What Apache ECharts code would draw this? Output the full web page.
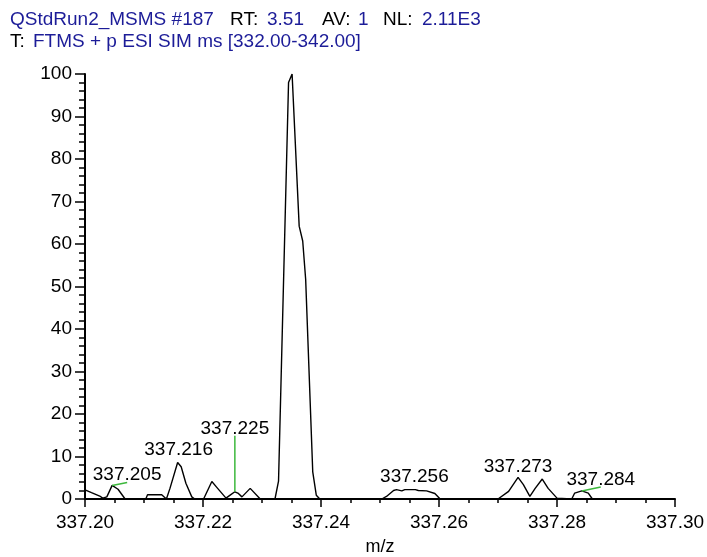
<!DOCTYPE html>
<html>
<head>
<meta charset="utf-8">
<script src="https://cdn.jsdelivr.net/npm/echarts@6/dist/echarts.min.js"></script>
<style>
  html, body { margin: 0; padding: 0; background: #fff; }
  #chart { width: 707px; height: 557px; }
</style>
</head>
<body>
<div id="chart"></div>
<script>
// Profile spectrum: m/z and relative abundance (%)
const mzValues = [
  337.2001, 337.2011, 337.2025, 337.2030, 337.2037, 337.2046, 337.2056, 337.2068,
  337.2103, 337.2106, 337.2130, 337.2138, 337.2144, 337.2157, 337.2163, 337.2171,
  337.2181, 337.2186, 337.2201, 337.2215, 337.2223, 337.2239, 337.2246, 337.2254,
  337.2260, 337.2266, 337.2280, 337.2297, 337.2322, 337.2328, 337.2345, 337.2351,
  337.2363, 337.2369, 337.2374, 337.2386, 337.2392, 337.2398, 337.2503, 337.2511,
  337.2523, 337.2528, 337.2537, 337.2542, 337.2560, 337.2565, 337.2579, 337.2593,
  337.2602, 337.2700, 337.2703, 337.2718, 337.2734, 337.2743, 337.2754, 337.2763,
  337.2775, 337.2785, 337.2800, 337.2803, 337.2825, 337.2830, 337.2842, 337.2853,
  337.2860, 337.3000
];
const intensities = [
  2.1, 1.5, 0.7, 0.2, 0.5, 3.2, 2.3, 0,
  0, 1.0, 1.0, 0, 2.5, 8.6, 7.6, 3.7,
  0.5, 0, 0, 4.1, 2.8, 0.2, 0.9, 1.7,
  1.3, 0.5, 2.5, 0, 0, 4.2, 98, 100,
  64.2, 60.7, 51.7, 6.4, 0.9, 0, 0, 0.6,
  2.0, 2.2, 1.9, 2.2, 2.2, 2.0, 1.9, 1.3,
  0, 0, 0.3, 1.8, 5.1, 3.4, 0.6, 2.5,
  4.7, 2.5, 0.2, 0, 0, 1.4, 1.9, 1.4,
  0, 0
];

// Centroids that carry an m/z label
const labelledPeaks = [337.2046, 337.2157, 337.2254, 337.2560, 337.2734, 337.2842];
// Label displacement from the peak, in pixels, and whether a leader line is drawn
const labelOffsets = [[15, -5], [1, -7], [0, -58], [-1, -7], [0, -5], [19, -6]];
const leaderLines = [true, false, true, false, false, true];

// Axis tick labels
const xTickLabels = ['337.20', '337.22', '337.24', '337.26', '337.28', '337.30'];
const yTickLabels = ['0', '10', '20', '30', '40', '50', '60', '70', '80', '90', '100'];

// Header text
const headerLine1 = [
  ['QStdRun2_MSMS #187', true, 10], ['RT:', false, 230], ['3.51', true, 267],
  ['AV:', false, 322], ['1', true, 358], ['NL:', false, 383], ['2.11E3', true, 422]
];
const headerLine2 = [['T:', false, 10], ['FTMS + p ESI SIM ms [332.00-342.00]', true, 33]];

const FONT = '"Liberation Sans", Arial, sans-serif';
const BLUE = '#1c1c98';

const profile = mzValues.map((m, i) => [m, intensities[i]]);
const peakData = labelledPeaks.map((m, i) => {
  const j = mzValues.indexOf(m);
  return [m, intensities[j], i];
});

const xMin = parseFloat(xTickLabels[0]);
const xMax = parseFloat(xTickLabels[xTickLabels.length - 1]);
const xStep = parseFloat(xTickLabels[1]) - xMin;
const yMax = parseFloat(yTickLabels[yTickLabels.length - 1]);
const yStep = parseFloat(yTickLabels[1]);

function headerTexts(items, y) {
  return items.map(([text, blue, x]) => ({
    type: 'text',
    x: x,
    y: y,
    style: {
      text: text,
      fill: blue ? BLUE : '#000',
      font: '19px ' + FONT,
      textAlign: 'left',
      textVerticalAlign: 'middle'
    }
  }));
}

const chart = echarts.init(document.getElementById('chart'), null, { renderer: 'canvas' });

chart.setOption({
  animation: false,
  backgroundColor: '#fff',
  graphic: headerTexts(headerLine1, 20).concat(headerTexts(headerLine2, 42)),
  grid: { left: 85, right: 32, top: 74, bottom: 58, outerBoundsMode: 'none', containLabel: false },
  xAxis: {
    type: 'value',
    min: xMin,
    max: xMax,
    interval: xStep,
    name: 'm/z',
    nameLocation: 'middle',
    nameGap: 39,
    nameTextStyle: { color: '#000', fontSize: 18, fontFamily: FONT },
    axisLine: { show: true, onZero: false, lineStyle: { color: '#000', width: 2 } },
    axisTick: { show: true, length: 8, lineStyle: { color: '#000', width: 1.5 } },
    minorTick: { show: true, splitNumber: 4, length: 4, lineStyle: { color: '#000', width: 1.5 } },
    splitLine: { show: false },
    axisLabel: {
      color: '#000', fontSize: 19, fontFamily: FONT, margin: 14,
      formatter: v => v.toFixed(2)
    }
  },
  yAxis: {
    type: 'value',
    min: 0,
    max: yMax,
    interval: yStep,
    axisLine: { show: true, lineStyle: { color: '#000', width: 2 } },
    axisTick: { show: true, length: 10, lineStyle: { color: '#000', width: 1.5 } },
    minorTick: { show: true, splitNumber: 5, length: 6, lineStyle: { color: '#000', width: 1.5 } },
    splitLine: { show: false },
    axisLabel: { color: '#000', fontSize: 19, fontFamily: FONT, margin: 13 }
  },
  series: [
    {
      type: 'line',
      data: profile,
      symbol: 'none',
      smooth: false,
      lineStyle: { color: '#000', width: 1.4 },
      z: 3
    },
    {
      type: 'custom',
      data: peakData,
      clip: false,
      z: 4,
      renderItem: function (params, api) {
        const idx = api.value(2);
        const pt = api.coord([api.value(0), api.value(1)]);
        const off = labelOffsets[idx];
        const ax = pt[0] + off[0];
        const ay = pt[1] + off[1];
        const children = [];
        if (leaderLines[idx]) {
          children.push({
            type: 'line',
            shape: { x1: pt[0], y1: pt[1], x2: ax, y2: ay + 2 },
            style: { stroke: '#3cb83c', lineWidth: 1.5 }
          });
        }
        children.push({
          type: 'text',
          x: ax,
          y: ay + 4,
          style: {
            text: api.value(0).toFixed(3),
            fill: '#000',
            font: '19px ' + FONT,
            textAlign: 'center',
            textVerticalAlign: 'bottom'
          }
        });
        return { type: 'group', children: children };
      }
    }
  ]
});
</script>
</body>
</html>
